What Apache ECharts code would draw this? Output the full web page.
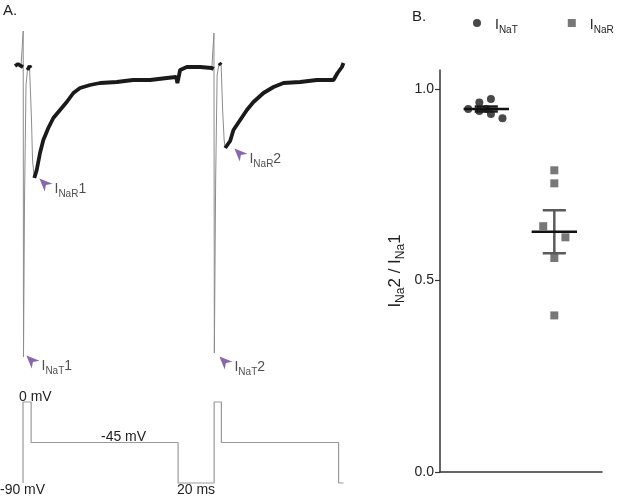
<!DOCTYPE html>
<html>
<head>
<meta charset="utf-8">
<script src="https://cdn.jsdelivr.net/npm/echarts@6/dist/echarts.min.js"></script>
<style>
  html, body { margin: 0; padding: 0; background: #fff; }
  #chart { width: 617px; height: 498px; }
</style>
</head>
<body>
<div id="chart"></div>
<script>
// ---- panel A: current trace (ms, pA) ----
const traceT = [-4.45, -2.8, -1.1, 0.0, 0.1, 0.27, 0.83, 1.66, 2.49, 3.6, 4.32, 4.71, 5.27,
  6.27, 7.6, 9.43, 11.26, 14.03, 16.81, 20.53, 24.25, 27.91, 31.63, 37.18, 42.73, 51.99,
  61.04, 70.47, 79.74, 84.9, 85.62, 87.12, 90.84, 98.22, 104.71, 105.71, 105.88, 106.1,
  106.82, 107.65, 108.76, 109.87, 110.7, 111.54, 112.1, 113.2, 114.87, 116.7, 120.42,
  124.14, 127.8, 133.35, 138.9, 144.45, 153.72, 162.98, 172.19, 174.41, 176.85, 177.7];
const traceI = [10, 30, 10, 0, 360, -2900, -1330, -180, -30, 10, -10, -530, -930,
  -1110, -1030, -860, -730, -610, -510, -430, -350, -260, -210, -180, -160, -150,
  -130, -130, -110, -100, -160, -30, 0, 0, -10, -20, 340, -2860,
  -1130, -80, 40, 20, -430, -730, -810, -790, -740, -630, -530,
  -430, -350, -260, -200, -160, -150, -130, -130, -60, 0, 40];
// fast transients drawn as thin grey line only
const fastWindows = [[0.05, 2.0], [4.5, 6.0], [105.8, 107.7], [110.3, 111.6]];

// ---- panel A: voltage protocol (ms, mV) ----
const protoT = [0, 0, 4.5, 4.5, 86, 86, 106, 106, 110, 110, 175, 175, 177.7];
const protoV = [-90, 0, 0, -45, -45, -90, -90, 0, 0, -45, -45, -90, -90];

// ---- panel B: ratio INa2 / INa1 ----
const groupNames = ['INaT', 'INaR'];
const groupPos = [1, 2.47];
const ratioNaT = [0.948, 0.965, 0.943, 0.948, 0.974, 0.935, 0.924];
const jitterNaT = [-0.39, -0.15, -0.15, 0, 0.1, 0.1, 0.35];
const ratioNaR = [0.788, 0.754, 0.642, 0.613, 0.559, 0.409];
const jitterNaR = [0, 0, -0.24, 0.24, 0, 0];
const yTicks = [0, 0.5, 1.0];

const FONT = '"Liberation Sans", Arial, sans-serif';
const TXT = '#222';

function meanSem(arr) {
  const m = arr.reduce((a, b) => a + b, 0) / arr.length;
  const sd = Math.sqrt(arr.reduce((a, b) => a + (b - m) * (b - m), 0) / (arr.length - 1));
  return [m, sd / Math.sqrt(arr.length)];
}
const statNaT = meanSem(ratioNaT);
const statNaR = meanSem(ratioNaR);

const inFast = t => fastWindows.some(w => t >= w[0] && t <= w[1]);
const traceAll = traceT.map((t, i) => [t, traceI[i]]);
const traceSlow = traceT.map((t, i) => inFast(t) ? [t, '-'] : [t, traceI[i]]);

const subRich = {
  i: { fontSize: 14, fontFamily: FONT, color: TXT, lineHeight: 18, verticalAlign: 'bottom' },
  s: { fontSize: 10, fontFamily: FONT, color: TXT, lineHeight: 18, verticalAlign: 'bottom', padding: [0, 0, -3, 0] }
};
const legendRich = {
  i: { fontSize: 14, fontFamily: FONT, color: TXT, lineHeight: 18, verticalAlign: 'bottom', padding: [0, 0, 0, 9] },
  s: subRich.s
};
const subLabel = (sub, tail) => '{i|I}{s|' + sub + '}{i|' + tail + '}';

const arrowPath = 'path://M5,0L10,12L5,8.5L0,12Z';

const chart = echarts.init(document.getElementById('chart'));
chart.setOption({
  animation: false,
  backgroundColor: '#fff',
  textStyle: { fontFamily: FONT },
  grid: [
    { left: 14, width: 330, top: 27, height: 340 },
    { left: 14, width: 330, top: 397.5, height: 90 },
    { left: 440, right: 15, top: 70, bottom: 26 }
  ],
  xAxis: [
    { gridIndex: 0, type: 'value', min: -5, max: 178, show: false },
    { gridIndex: 1, type: 'value', min: -5, max: 178, show: false },
    { gridIndex: 2, type: 'value', min: 0, max: 3.5,
      axisLine: { lineStyle: { color: '#333', width: 1.5 } },
      axisTick: { show: false }, axisLabel: { show: false }, splitLine: { show: false } }
  ],
  yAxis: [
    { gridIndex: 0, type: 'value', min: -3000, max: 400, show: false },
    { gridIndex: 1, type: 'value', min: -95, max: 5, show: false },
    { gridIndex: 2, type: 'value', min: 0, max: 1.05,
      axisLine: { show: true, lineStyle: { color: '#333', width: 1.5 } },
      axisTick: { show: true, length: 5, customValues: yTicks, lineStyle: { color: '#333', width: 1.2 } },
      axisLabel: { customValues: yTicks, formatter: v => v.toFixed(1), fontSize: 14, color: TXT, margin: 6 },
      splitLine: { show: false },
      name: '{i|I}{s|Na}{i|2 / }{i|I}{s|Na}{i|1}',
      nameLocation: 'middle', nameGap: 36,
      nameTextStyle: {
        rich: {
          i: { fontSize: 17, fontFamily: FONT, color: TXT, lineHeight: 22, verticalAlign: 'bottom' },
          s: { fontSize: 12, fontFamily: FONT, color: TXT, lineHeight: 22, verticalAlign: 'bottom', padding: [0, 0, -3, 0] }
        }
      }
    }
  ],
  legend: {
    data: groupNames,
    orient: 'horizontal',
    left: 473, top: 18, width: 200, padding: 0,
    itemWidth: 8, itemHeight: 8, itemGap: 50,
    formatter: name => '{i|I}{s|' + name.slice(1) + '}',
    textStyle: { rich: legendRich }
  },
  graphic: [
    { type: 'text', left: 3, top: 3, style: { text: 'A.', font: '15px ' + FONT, fill: TXT } },
    { type: 'text', left: 412, top: 9, style: { text: 'B.', font: '15px ' + FONT, fill: TXT } },
    { type: 'text', left: 19, top: 390, style: { text: '0 mV', font: '14px ' + FONT, fill: TXT } },
    { type: 'text', left: 101, top: 430, style: { text: '-45 mV', font: '14px ' + FONT, fill: TXT } },
    { type: 'text', left: 0, top: 483, style: { text: '-90 mV', font: '14px ' + FONT, fill: TXT } },
    { type: 'text', left: 177, top: 483, style: { text: '20 ms', font: '14px ' + FONT, fill: TXT } }
  ],
  series: [
    { type: 'line', xAxisIndex: 0, yAxisIndex: 0, data: traceAll, showSymbol: false,
      lineStyle: { color: '#8c8c8c', width: 1 }, z: 2 },
    { type: 'line', xAxisIndex: 0, yAxisIndex: 0, data: traceSlow, showSymbol: false,
      lineStyle: { color: '#1a1a1a', width: 3.8 }, z: 3 },
    { type: 'line', xAxisIndex: 1, yAxisIndex: 1, data: protoT.map((t, i) => [t, protoV[i]]),
      showSymbol: false, clip: false, lineStyle: { color: '#9a9a9a', width: 1.2 } },
    { type: 'scatter', xAxisIndex: 0, yAxisIndex: 0, clip: false,
      symbol: arrowPath, symbolSize: [11, 13], symbolRotate: 45,
      itemStyle: { color: '#66429a' },
      label: { show: true, position: 'right', distance: 2, offset: [0, 4], rich: subRich },
      data: [
        { value: [11.64, -1160], label: { formatter: subLabel('NaR', '1') } },
        { value: [119.77, -860], label: { formatter: subLabel('NaR', '2') } },
        { value: [4.43, -2930], label: { formatter: subLabel('NaT', '1') } },
        { value: [111.45, -2940], label: { formatter: subLabel('NaT', '2') } }
      ], z: 5 },
    { name: 'INaT', type: 'scatter', xAxisIndex: 2, yAxisIndex: 2, symbol: 'circle', symbolSize: 8,
      itemStyle: { color: '#1a1a1a' },
      data: ratioNaT.map((v, i) => [groupPos[0] + jitterNaT[i], v]) },
    { name: 'INaR', type: 'scatter', xAxisIndex: 2, yAxisIndex: 2, symbol: 'rect', symbolSize: 8,
      itemStyle: { color: '#555' },
      data: ratioNaR.map((v, i) => [groupPos[1] + jitterNaR[i], v]) },
    { type: 'custom', xAxisIndex: 2, yAxisIndex: 2, z: 4,
      data: [[groupPos[0], statNaT[0], statNaT[1]], [groupPos[1], statNaR[0], statNaR[1]]],
      renderItem: (params, api) => {
        const x = api.value(0), m = api.value(1), s = api.value(2);
        const c = api.coord([x, m]);
        const hi = api.coord([x, m + s]);
        const lo = api.coord([x, m - s]);
        const meanHalf = api.size([0.49, 0])[0];
        const capHalf = api.size([0.25, 0])[0];
        const barColor = params.dataIndex === 0 ? '#1a1a1a' : '#5a5a5a';
        const st = col => ({ stroke: col, lineWidth: 2.5 });
        return { type: 'group', children: [
          { type: 'line', shape: { x1: c[0], y1: hi[1], x2: c[0], y2: lo[1] }, style: st(barColor) },
          { type: 'line', shape: { x1: c[0] - capHalf, y1: hi[1], x2: c[0] + capHalf, y2: hi[1] }, style: st(barColor) },
          { type: 'line', shape: { x1: c[0] - capHalf, y1: lo[1], x2: c[0] + capHalf, y2: lo[1] }, style: st(barColor) },
          { type: 'line', shape: { x1: c[0] - meanHalf, y1: c[1], x2: c[0] + meanHalf, y2: c[1] }, style: st('#111') }
        ] };
      } }
  ]
});
</script>
</body>
</html>
